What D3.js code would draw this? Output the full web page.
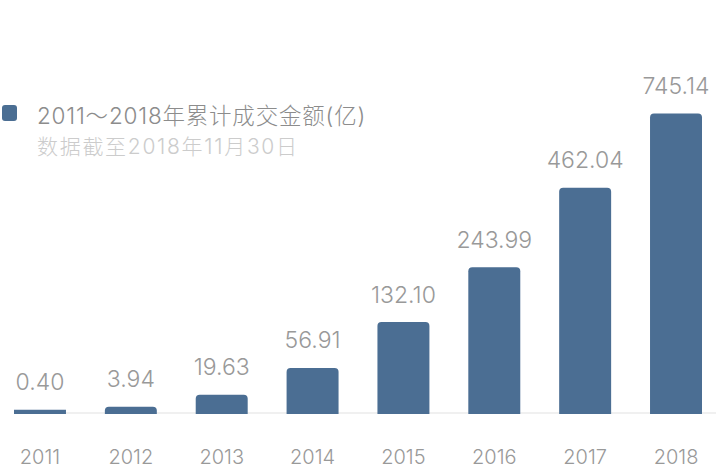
<!DOCTYPE html>
<html>
<head>
<meta charset="utf-8">
<script src="https://cdn.jsdelivr.net/npm/d3@7"></script>
<style>
  html, body { margin: 0; padding: 0; background: #fff; }
  svg { display: block; }
  text { font-family: Inter, "Noto Sans CJK SC", sans-serif; font-weight: 300; }
</style>
</head>
<body>
<svg id="chart" width="716" height="468"></svg>
<script>
const years = ["2011", "2012", "2013", "2014", "2015", "2016", "2017", "2018"];
const values = [0.40, 3.94, 19.63, 56.91, 132.10, 243.99, 462.04, 745.14];
const legendTitle = "2011～2018年累计成交金额(亿)";
const legendNote = "数据截至2018年11月30日";

const W = 716, H = 468;
const baseline = 414;
const barColor = "#4b6e93";

const svg = d3.select("#chart");

const x = d3.scaleBand()
  .domain(years)
  .range([14, 702])
  .paddingInner(0.428)
  .paddingOuter(0);

const y = d3.scaleSymlog()
  .constant(285)
  .domain([0, d3.max(values)])
  .range([baseline - 4, baseline - 300.5]);

svg.append("line")
  .attr("x1", 14).attr("x2", W)
  .attr("y1", baseline - 1).attr("y2", baseline - 1)
  .attr("stroke", "#f0f0f0").attr("stroke-width", 2);

function topRounded(x0, y0, w, h, r) {
  r = Math.min(r, h, w / 2);
  return `M${x0},${y0 + h}V${y0 + r}Q${x0},${y0} ${x0 + r},${y0}H${x0 + w - r}Q${x0 + w},${y0} ${x0 + w},${y0 + r}V${y0 + h}Z`;
}

const data = years.map((yr, i) => ({ yr, v: values[i] }));

svg.append("g").selectAll("path")
  .data(data)
  .join("path")
  .attr("fill", barColor)
  .attr("d", d => {
    const top = y(d.v);
    const h = baseline - top;
    return topRounded(x(d.yr), top, x.bandwidth(), h, h > 6 ? 4 : 0);
  });

svg.append("g").selectAll("text")
  .data(data)
  .join("text")
  .attr("x", d => x(d.yr) + x.bandwidth() / 2)
  .attr("y", d => y(d.v) - 19.5)
  .attr("text-anchor", "middle")
  .attr("fill", "#999999")
  .attr("font-size", 23)
  .text(d => d.v.toFixed(2));

const xAxis = d3.axisBottom(x).tickSize(0).tickPadding(0);
const gx = svg.append("g")
  .attr("transform", `translate(0,${baseline})`)
  .call(xAxis);
gx.select(".domain").remove();
gx.selectAll("text")
  .attr("dy", null)
  .attr("y", 49.5)
  .attr("fill", "#999999")
  .attr("font-size", 20)
  .attr("font-family", null);

svg.append("rect")
  .attr("x", 2).attr("y", 105)
  .attr("width", 15).attr("height", 16)
  .attr("rx", 3)
  .attr("fill", barColor);

svg.append("text")
  .attr("x", 37).attr("y", 123.5)
  .attr("fill", "#8c8c8c")
  .attr("font-size", 22.5)
  .attr("letter-spacing", 0.8)
  .text(legendTitle);

svg.append("text")
  .attr("x", 37).attr("y", 154)
  .attr("fill", "#cccccc")
  .attr("font-size", 21)
  .attr("letter-spacing", 1.7)
  .text(legendNote);
</script>
</body>
</html>
